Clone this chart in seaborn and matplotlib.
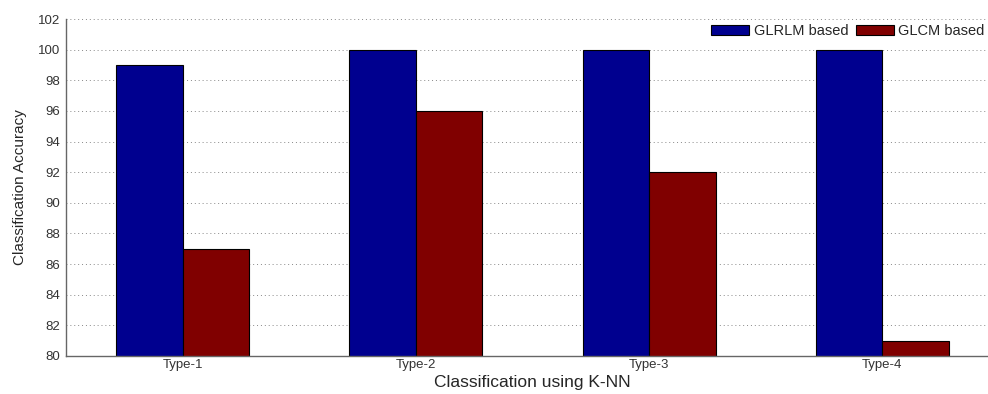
import matplotlib
matplotlib.use("Agg")
import matplotlib.pyplot as plt
import seaborn as sns
import pandas as pd

categories = ["Type-1", "Type-2", "Type-3", "Type-4"]
glrlm = [99, 100, 100, 100]
glcm = [87, 96, 92, 81]
series_names = ["GLRLM based", "GLCM based"]
colors = ["#00008F", "#800000"]
yticks = list(range(80, 103, 2))

df = pd.DataFrame({
    "Type": categories * 2,
    "Accuracy": glrlm + glcm,
    "Method": [series_names[0]] * 4 + [series_names[1]] * 4,
})

sns.set_style("white")
plt.rcParams["font.family"] = ["Liberation Sans", "DejaVu Sans"]

fig = plt.figure(figsize=(9.88, 3.94), dpi=100)
ax = fig.add_axes([66 / 988, 1 - 356 / 394, (999 - 66) / 988, (356 - 19) / 394])

sns.barplot(data=df, x="Type", y="Accuracy", hue="Method", palette=colors,
            width=0.57, ax=ax, edgecolor="black", linewidth=0.8, saturation=1)

ax.set_ylim(80, 102)
ax.set_xlim(-0.5, 3.5)
ax.set_yticks(yticks)
ax.set_yticklabels([str(t) for t in yticks], fontsize=9.5, color="#333333")
ax.set_xticklabels(categories, fontsize=9.5, color="#333333")
ax.set_axisbelow(True)
ax.yaxis.grid(True, linestyle=(0, (1, 3)), color="#888888", linewidth=0.7)
ax.xaxis.grid(False)
for s in ["top", "right"]:
    ax.spines[s].set_visible(False)
for s in ["left", "bottom"]:
    ax.spines[s].set_color("#666666")
    ax.spines[s].set_linewidth(1.0)
ax.tick_params(axis="y", direction="in", length=4, color="#666666", pad=4)
ax.tick_params(axis="x", length=0, pad=2)

ax.set_ylabel("Classification Accuracy", fontsize=11, labelpad=8)
ax.set_xlabel("Classification using K-NN", fontsize=12.5, labelpad=3)

leg = ax.legend(loc="upper right", ncol=2, frameon=True,
                fontsize=10.5, handlelength=2.6, handleheight=0.7, columnspacing=0.5,
                handletextpad=0.3, borderaxespad=0.0, borderpad=0.25)
leg.get_frame().set_edgecolor("white")
leg.get_frame().set_facecolor("white")
leg.get_frame().set_alpha(1)
leg.set_title(None)
leg.set_bbox_to_anchor(((988 - 66) / (999 - 66), 0.995), transform=ax.transAxes)

fig.savefig("out.png", dpi=100)
